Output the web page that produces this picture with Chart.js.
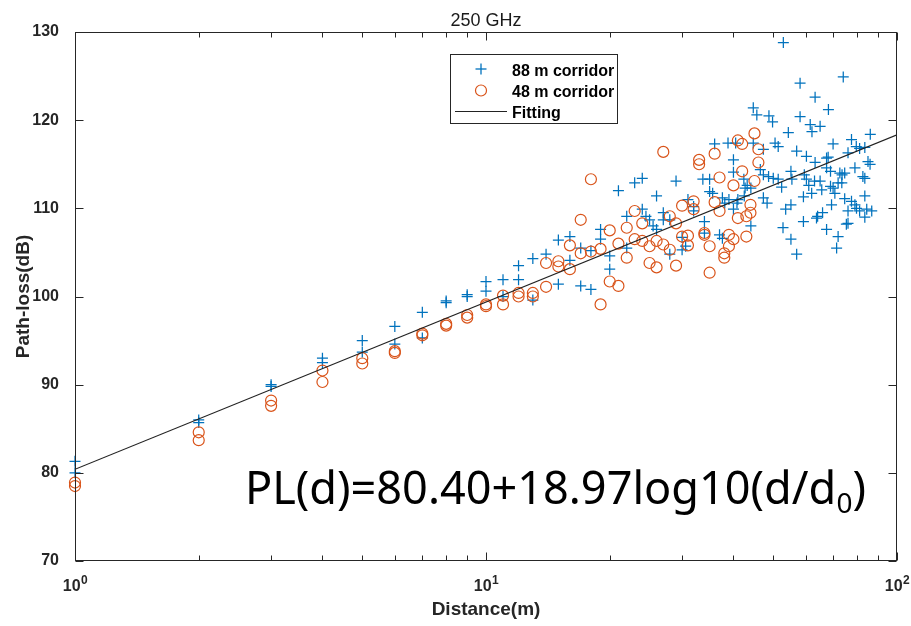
<!DOCTYPE html>
<html>
<head>
<meta charset="utf-8">
<script src="https://cdn.jsdelivr.net/npm/chart.js@4.4.1/dist/chart.umd.min.js"></script>
<style>
html,body{margin:0;padding:0;background:#ffffff;}
#wrap{width:911px;height:626px;position:relative;}
</style>
</head>
<body>
<div id="wrap"><canvas id="c" width="911" height="626"></canvas></div>
<script>
// ---------------- data ----------------
const chartTitle = '250 GHz';
const xAxisTitle = 'Distance(m)';
const yAxisTitle = 'Path-loss(dB)';
const seriesNames = ['88 m corridor', '48 m corridor', 'Fitting'];

const corridor88D = [
  1,1,2,2,3,3,4,4,5,5,6,6,7,7,8,8,9,9,10,10,11,11,12,12,13,13,14,15,15,16,16,17,17,18,18,19,19,20,20,
  21,22,22,23,24,24,24.5,25,25.5,26,26,27,27,28,28,29,30,30,30.6,31,32,32,33.7,34,34,35,35,35.6,36,
  37,37.6,37.6,38.1,38.8,39,40,40,40,40.5,40.8,41,42.4,42.5,42.7,43.2,44.1,44.1,44.7,44.7,45.6,
  46.5,47.3,47.3,47.3,48.3,48.8,48.7,49.8,50.5,50,51.4,51.4,52.4,52.9,52.8,53.6,54.4,55.5,55.2,55.2,55.2,
  57,57,58.1,58.1,59.2,59.2,59.5,60.2,60.2,61,61.5,62.1,62,63.2,63.2,63,63.7,64.1,65,65,65.6,65.9,
  67.4,67.4,67.4,68.1,68,68.9,68.9,69.3,69.9,69.9,70.6,71.3,71.9,71.9,73.4,73.5,72.6,74,74.6,74.6,
  75.3,76,76,76,77.5,77.5,79,79.7,79,79.6,81.1,81.1,82.6,83.5,83.5,83.5,83.5,84.4,85,86,86.1,86.8
];
const corridor88PL = [
  81.3,80.0,86.0,85.7,90.0,89.8,93.0,92.5,95.0,93.7,96.6,94.6,98.2,95.3,99.3,99.5,100.2,100.0,101.7,100.6,101.9,100.0,103.5,101.9,104.3,99.6,104.8,106.4,101.4,106.8,104.1,105.5,101.2,105.2,100.8,107.6,106.5,104.6,103.1,
  112.0,109.1,105.5,112.9,113.4,109.9,109.1,108.7,108.0,111.4,107.6,109.5,108.7,104.8,108.7,113.1,105.3,106.7,105.7,111.0,110.2,109.7,113.3,108.5,107.2,113.3,111.9,111.7,117.3,
  107.0,106.6,111.2,110.6,117.4,111.0,115.5,114.1,109.9,117.4,110.6,111.0,113.3,111.4,112.3,112.6,112.3,108.0,117.4,121.4,120.6,
  114.4,113.8,111.2,116.7,110.6,120.5,113.6,119.8,117.4,113.4,117.0,113.3,112.4,128.8,107.8,109.9,118.6,113.3,114.2,110.4,106.5,
  116.5,104.8,124.2,120.4,111.3,108.5,113.8,115.9,113.3,112.6,119.5,118.7,111.7,122.6,115.2,113.1,108.9,109.1,119.3,113.1,112.1,109.5,
  115.7,114.6,107.6,121.2,115.8,114.2,112.5,110.4,117.3,112.3,111.7,105.5,106.8,112.9,112.9,113.8,114.0,124.9,114.0,111.1,
  108.2,108.3,109.7,116.3,110.8,117.8,110.4,110.0,114.6,117.0,116.8,109.7,113.6,113.4,111.4,116.9,109.0,109.9,115.3,115.0,118.4,109.7
];

const corridor48D = [
  1,1,2,2,3,3,4,4,5,5,6,6,7,7,8,8,9,9,10,10,11,11,12,12,13,13,14,14,15,15,16,16,17,17,18,18,19,19,20,20,
  21,21,22,22,23,23,24,24,25,25,26,26,27,27,28,28,29,29,30,30,31,31,32,32,33,33,34,34,35,35,36,36,37,37,
  38,38,39,39,40,40,41,41,42,42,43,43,44,44,45,45,46,46
];
const corridor48PL = [
  78.9,78.5,84.6,83.7,88.2,87.6,91.6,90.3,93.0,92.4,93.8,93.6,95.8,95.6,96.9,96.7,97.9,97.6,99.1,98.9,100.1,99.1,100.4,100.0,100.4,100.0,103.8,101.1,104.0,103.4,105.8,103.1,108.7,104.9,113.3,105.1,105.4,99.1,107.5,101.7,
  106.0,101.2,107.8,104.4,109.7,106.5,108.3,106.3,105.7,103.8,106.3,103.3,116.4,105.9,109.1,105.3,108.3,103.5,110.3,106.8,106.9,105.8,110.8,109.9,115.5,115.0,107.2,107.0,105.7,102.7,116.2,110.7,113.5,109.7,
  104.9,104.4,107.0,105.7,112.6,106.5,117.7,108.9,117.3,114.2,109.1,106.8,109.5,110.4,118.5,113.1,116.7,115.2
];

// fitted model PL(d)=80.40+18.97log10(d/d0), end points read at d=1 and d=100
const fitD = [1, 100];
const fitPL = [80.40, 118.34];

const yTickValues = [70, 80, 90, 100, 110, 120, 130];
const xMajorTicks = [1, 10, 100];
const xMajorBase = ['10', '10', '10'];
const xMajorExp = ['0', '1', '2'];
const xMinorTicks = [2,3,4,5,6,7,8,9,20,30,40,50,60,70,80,90];

const eqMain = 'PL(d)=80.40+18.97log10(d/d';
const eqSub = '0';
const eqEnd = ')';

// ---------------- styles ----------------
const BLUE = '#0072BD';
const ORANGE = '#D95319';
const AXIS = '#262626';
const SANS = "'Liberation Sans', Arial, Helvetica, sans-serif";

function pts(ds, vs) { return ds.map((d, i) => ({ x: d, y: vs[i] })); }

function line(ctx, x1, y1, x2, y2) {
  ctx.beginPath(); ctx.moveTo(x1, y1); ctx.lineTo(x2, y2); ctx.stroke();
}

const decoPlugin = {
  id: 'deco',
  afterDatasetsDraw(chart) {
    const { ctx, chartArea: a, scales: { x, y } } = chart;
    ctx.save();
    ctx.strokeStyle = AXIS;
    ctx.lineWidth = 1;
    const L = Math.round(a.left) + 0.5, R = Math.round(a.right) - 0.5;
    const T = Math.round(a.top) + 0.5, B = Math.round(a.bottom) - 0.5;
    ctx.strokeRect(L, T, R - L, B - T);
    yTickValues.forEach(v => {
      const py = Math.round(y.getPixelForValue(v)) + 0.5;
      line(ctx, L, py, L + 8, py);
      line(ctx, R, py, R - 8, py);
    });
    xMajorTicks.forEach(v => {
      const px = Math.round(x.getPixelForValue(v)) + 0.5;
      line(ctx, px, B, px, B - 8);
      line(ctx, px, T, px, T + 8);
    });
    xMinorTicks.forEach(v => {
      const px = Math.round(x.getPixelForValue(v)) + 0.5;
      line(ctx, px, B, px, B - 5);
      line(ctx, px, T, px, T + 5);
    });
    ctx.restore();
  },
  afterDraw(chart) {
    const { ctx, chartArea: a, scales: { x, y } } = chart;
    ctx.save();
    // title
    ctx.fillStyle = '#1a1a1a';
    ctx.font = '18px ' + SANS;
    ctx.textAlign = 'center';
    ctx.textBaseline = 'alphabetic';
    ctx.fillText(chartTitle, (a.left + a.right) / 2, 26);

    // x tick labels with exponents
    ctx.fillStyle = AXIS;
    xMajorTicks.forEach((v, i) => {
      const px = x.getPixelForValue(v);
      ctx.font = 'bold 16px ' + SANS;
      const wb = ctx.measureText(xMajorBase[i]).width;
      ctx.font = 'bold 12px ' + SANS;
      const we = ctx.measureText(xMajorExp[i]).width;
      const x0 = px - (wb + we) / 2;
      ctx.textAlign = 'left';
      ctx.font = 'bold 16px ' + SANS;
      ctx.fillText(xMajorBase[i], x0, 591);
      ctx.font = 'bold 12px ' + SANS;
      ctx.fillText(xMajorExp[i], x0 + wb + 0.5, 584);
    });

    // axis titles
    ctx.font = 'bold 19px ' + SANS;
    ctx.textAlign = 'center';
    ctx.fillText(xAxisTitle, (a.left + a.right) / 2, 615);
    ctx.save();
    ctx.translate(28.5, (a.top + a.bottom) / 2);
    ctx.rotate(-Math.PI / 2);
    ctx.fillText(yAxisTitle, 0, 0);
    ctx.restore();

    // legend
    const lx = 450.5, ly = 54.5, lw = 167, lh = 69;
    ctx.fillStyle = '#ffffff';
    ctx.fillRect(lx, ly, lw, lh);
    ctx.strokeStyle = AXIS;
    ctx.lineWidth = 1;
    ctx.strokeRect(lx, ly, lw, lh);
    const ds = chart.data.datasets;
    ctx.strokeStyle = ds[0].pointBorderColor;
    ctx.lineWidth = 1.3;
    line(ctx, 481 - 5.5, 69, 481 + 5.5, 69);
    line(ctx, 481, 69 - 5.5, 481, 69 + 5.5);
    ctx.strokeStyle = ds[1].pointBorderColor;
    ctx.lineWidth = 1.2;
    ctx.beginPath(); ctx.arc(481, 90.5, 5.5, 0, Math.PI * 2); ctx.stroke();
    ctx.strokeStyle = ds[2].borderColor;
    ctx.lineWidth = 1.2;
    line(ctx, 455, 111.5, 507, 111.5);
    ctx.fillStyle = '#000000';
    ctx.font = 'bold 16px ' + SANS;
    ctx.textAlign = 'left';
    ctx.fillText(ds[0].label, 512, 75.5);
    ctx.fillText(ds[1].label, 512, 97);
    ctx.fillText(ds[2].label, 512, 118);

    // equation
    const EQF = "'Noto Sans', 'Open Sans', sans-serif";
    let base = 46;
    ctx.font = base + 'px ' + EQF;
    const w1 = ctx.measureText(eqMain).width;
    const w3 = ctx.measureText(eqEnd).width;
    ctx.font = (base * 0.62) + 'px ' + EQF;
    const w2 = ctx.measureText(eqSub).width;
    const k = 621 / (w1 + w2 + w3);
    base = base * k;
    const ex = 245, ey = 504;
    ctx.fillStyle = '#000000';
    ctx.font = base + 'px ' + EQF;
    ctx.fillText(eqMain, ex, ey);
    ctx.font = (base * 0.62) + 'px ' + EQF;
    ctx.fillText(eqSub, ex + w1 * k, ey + base * 0.2);
    ctx.font = base + 'px ' + EQF;
    ctx.fillText(eqEnd, ex + (w1 + w2) * k, ey);
    ctx.restore();
  }
};

const ctx = document.getElementById('c').getContext('2d');
new Chart(ctx, {
  type: 'scatter',
  data: {
    datasets: [
      {
        label: seriesNames[0],
        data: pts(corridor88D, corridor88PL),
        pointStyle: 'cross',
        pointRadius: 5.5,
        pointBorderWidth: 1.25,
        pointBorderColor: BLUE,
        pointBackgroundColor: BLUE,
        borderColor: BLUE,
        showLine: false,
        clip: false,
        order: 3
      },
      {
        label: seriesNames[1],
        data: pts(corridor48D, corridor48PL),
        pointStyle: 'circle',
        pointRadius: 5.5,
        pointBorderWidth: 1.2,
        pointBorderColor: ORANGE,
        pointBackgroundColor: 'rgba(0,0,0,0)',
        borderColor: ORANGE,
        showLine: false,
        clip: false,
        order: 2
      },
      {
        label: seriesNames[2],
        data: pts(fitD, fitPL),
        showLine: true,
        pointRadius: 0,
        borderColor: '#222222',
        borderWidth: 1.2,
        fill: false,
        order: 1
      }
    ]
  },
  options: {
    responsive: false,
    animation: false,
    devicePixelRatio: 1,
    layout: { padding: { top: 32, right: 14, left: 0, bottom: 0 } },
    plugins: {
      legend: { display: false },
      tooltip: { enabled: false },
      title: { display: false }
    },
    scales: {
      x: {
        type: 'logarithmic',
        min: 1,
        max: 100,
        grid: { display: false },
        border: { display: false },
        ticks: { display: false },
        afterFit(s) { s.height = 65; }
      },
      y: {
        type: 'linear',
        min: 70,
        max: 130,
        grid: { display: false },
        border: { display: false },
        ticks: {
          stepSize: 10,
          color: AXIS,
          padding: 8,
          font: { family: SANS, size: 16, weight: 'bold' }
        },
        afterFit(s) { s.width = 75; }
      }
    }
  },
  plugins: [decoPlugin]
});
</script>
</body>
</html>
